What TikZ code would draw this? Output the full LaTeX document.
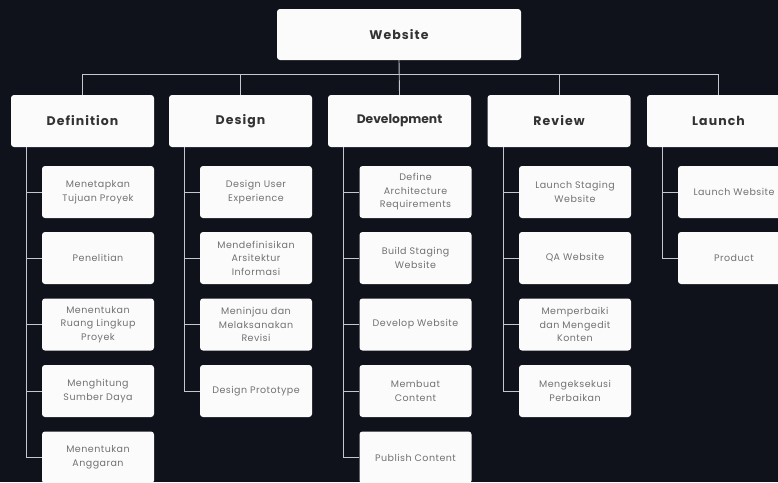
\documentclass[tikz,border=0pt]{standalone}
\usepackage{fontspec}
\setmainfont{Poppins}
\newfontfamily\headfont[LetterSpace=8.5]{Poppins}
\newfontfamily\childfont[LetterSpace=5]{Poppins}
\definecolor{bg}{HTML}{0F121B}
\definecolor{boxfill}{HTML}{FBFBFB}
\definecolor{headtext}{HTML}{333333}
\definecolor{childtext}{HTML}{727272}
\definecolor{linecol}{HTML}{C4C7CC}
\begin{document}
\begin{tikzpicture}[x=1pt,y=-1pt,
  rootbox/.style={fill=boxfill,rounded corners=3pt,minimum width=244pt,minimum height=51pt,inner sep=0pt,
    font=\headfont\fontsize{12.5}{14}\selectfont\bfseries,text=headtext},
  headbox/.style={fill=boxfill,rounded corners=3pt,minimum width=143pt,minimum height=52pt,inner sep=0pt,
    font=\headfont\fontsize{12.5}{14}\selectfont\bfseries,text=headtext},
  childbox/.style={fill=boxfill,rounded corners=3pt,minimum width=112pt,minimum height=52pt,inner sep=0pt,
    align=center,font=\childfont\fontsize{9.5}{13.5}\selectfont,text=childtext},
  conn/.style={draw=linecol,line width=0.9pt}
]
\fill[bg] (0,0) rectangle (778,482);
\useasboundingbox (0,0) rectangle (778,482);

% root
\node[rootbox] (web) at (399,34.5) {Website};

% headers
\node[headbox] (def) at (82.5,121) {Definition};
\node[headbox] (des) at (240.5,121) {Design};
\node[headbox,font=\fontsize{12.3}{14}\selectfont\bfseries] (dev) at (399.5,121) {Development};
\node[headbox] (rev) at (559,121) {Review};
\node[headbox] (lau) at (718.5,121) {Launch};

% children
\node[childbox] (def1) at (98,192) {Menetapkan\\Tujuan Proyek};
\node[childbox] (def2) at (98,258) {Penelitian};
\node[childbox] (def3) at (98,324.5) {Menentukan\\Ruang Lingkup\\Proyek};
\node[childbox] (def4) at (98,391) {Menghitung\\Sumber Daya};
\node[childbox] (def5) at (98,457.5) {Menentukan\\Anggaran};

\node[childbox] (des1) at (256,192) {Design User\\Experience};
\node[childbox] (des2) at (256,258) {Mendefinisikan\\Arsitektur\\Informasi};
\node[childbox] (des3) at (256,324.5) {Meninjau dan\\Melaksanakan\\Revisi};
\node[childbox] (des4) at (256,391) {Design Prototype};

\node[childbox] (dev1) at (415.5,192) {Define\\Architecture\\Requirements};
\node[childbox] (dev2) at (415.5,258) {Build Staging\\Website};
\node[childbox] (dev3) at (415.5,324.5) {Develop Website};
\node[childbox] (dev4) at (415.5,391) {Membuat\\Content};
\node[childbox] (dev5) at (415.5,457.5) {Publish Content};

\node[childbox] (rev1) at (575,192) {Launch Staging\\Website};
\node[childbox] (rev2) at (575,258) {QA Website};
\node[childbox] (rev3) at (575,324.5) {Memperbaiki\\dan Mengedit\\Konten};
\node[childbox] (rev4) at (575,391) {Mengeksekusi\\Perbaikan};

\node[childbox] (lau1) at (734,192) {Launch Website};
\node[childbox] (lau2) at (734,258) {Product};

% top connectors
\coordinate (bus) at (0,74);
\draw[conn] (web.south) -- (dev.north);
\draw[conn] (def.north) -- (def.north |- bus) -- (lau.north |- bus) -- (lau.north);
\draw[conn] (des.north) -- (des.north |- bus);
\draw[conn] (rev.north) -- (rev.north |- bus);

% spines
\coordinate (sdef) at ([xshift=16pt]def.south west);
\coordinate (sdes) at ([xshift=16pt]des.south west);
\coordinate (sdev) at ([xshift=16pt]dev.south west);
\coordinate (srev) at ([xshift=16pt]rev.south west);
\coordinate (slau) at ([xshift=16pt]lau.south west);

\draw[conn] (sdef) |- (def5.west);
\foreach \c in {def1,def2,def3,def4} \draw[conn] (sdef |- \c.west) -- (\c.west);
\draw[conn] (sdes) |- (des4.west);
\foreach \c in {des1,des2,des3} \draw[conn] (sdes |- \c.west) -- (\c.west);
\draw[conn] (sdev) |- (dev5.west);
\foreach \c in {dev1,dev2,dev3,dev4} \draw[conn] (sdev |- \c.west) -- (\c.west);
\draw[conn] (srev) |- (rev4.west);
\foreach \c in {rev1,rev2,rev3} \draw[conn] (srev |- \c.west) -- (\c.west);
\draw[conn] (slau) |- (lau2.west);
\draw[conn] (slau |- lau1.west) -- (lau1.west);
\end{tikzpicture}
\end{document}
